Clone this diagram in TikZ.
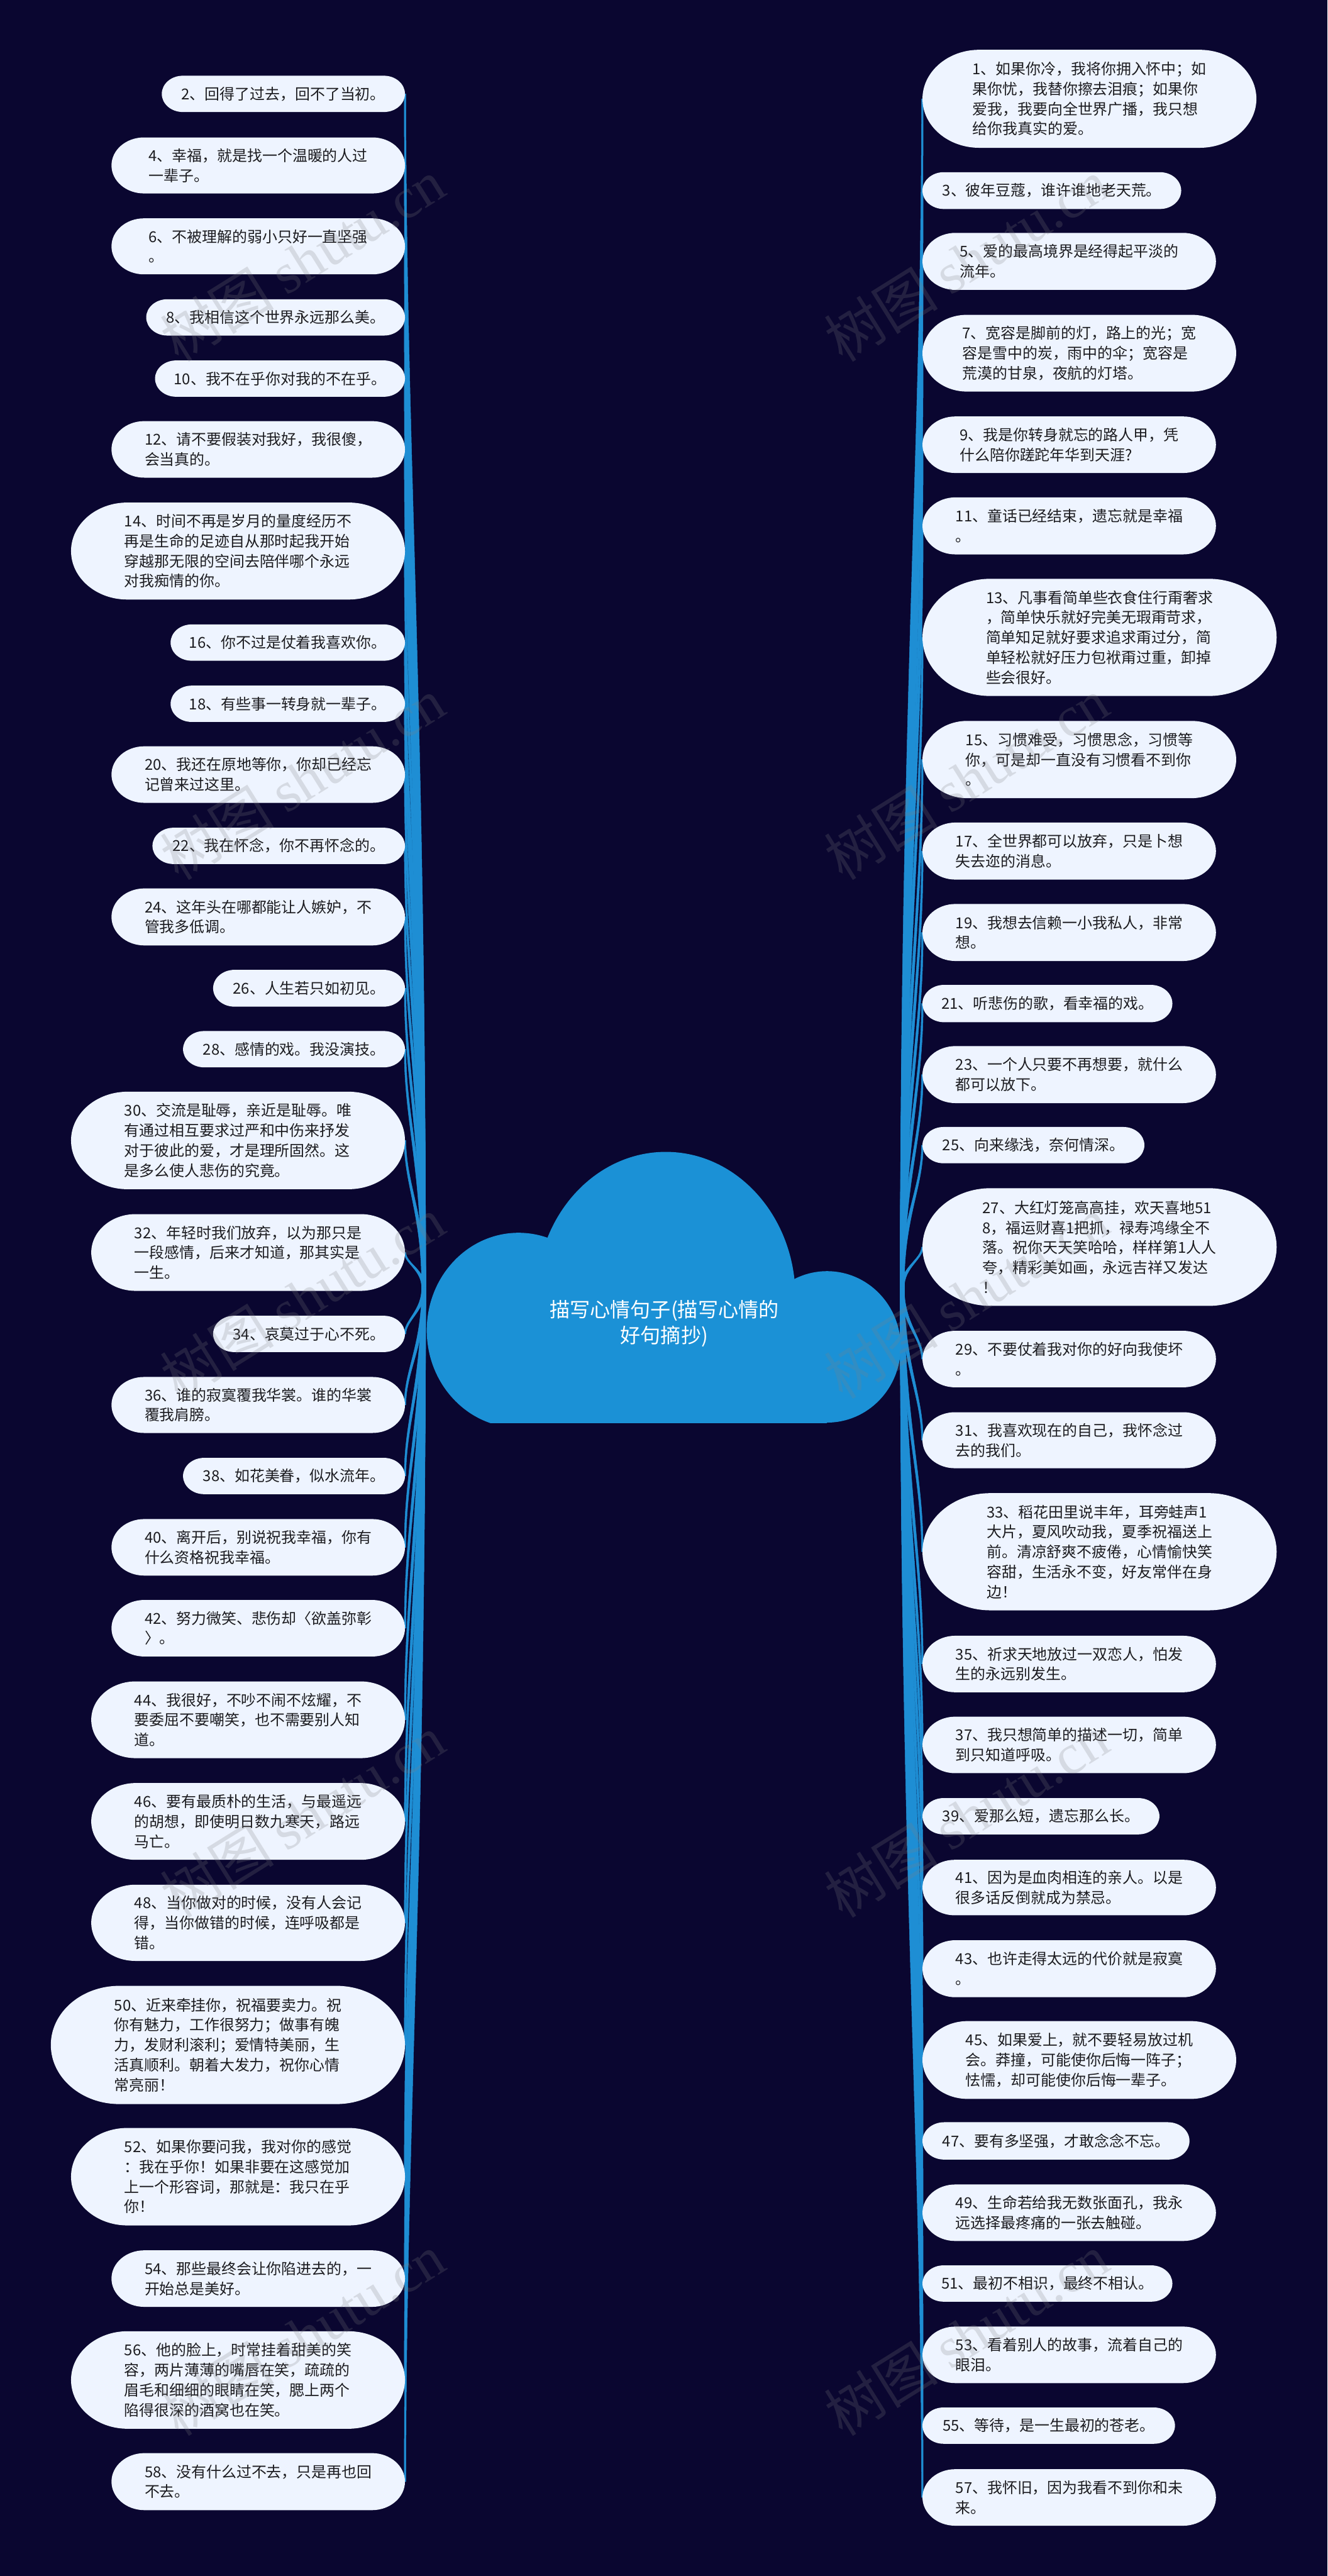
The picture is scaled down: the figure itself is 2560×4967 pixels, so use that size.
\documentclass[tikz,border=0pt]{standalone}
\usepackage{fontspec}
\setmainfont{Noto Sans CJK SC}
\newfontfamily\wmlatin{Liberation Serif}
\usetikzlibrary{calc}
\definecolor{bgc}{RGB}{10,6,48}
\definecolor{boxc}{RGB}{238,244,255}
\definecolor{txtc}{RGB}{28,28,32}
\definecolor{bluec}{RGB}{27,145,214}
\definecolor{linec}{RGB}{30,142,212}
\pgfdeclarelayer{back}
\pgfdeclarelayer{links}
\pgfsetlayers{back,links,main}
\tikzset{
  boxfill/.style={fill=boxc},
  boxtext/.style={align=left, text=txtc, inner sep=0pt, font=\fontsize{29}{38.5}\selectfont},
  conn/.style={fill=linec, draw=linec, line width=0.6pt, line join=round},
  wm/.style={anchor=base west, rotate=32, text=gray, opacity=0.22, inner sep=0pt, font=\fontsize{110}{110}\selectfont},
  titletext/.style={align=center, text=white, inner sep=0pt, font=\fontsize{39}{50}\selectfont}
}
% name, left, top, right, bottom (reference pixels, y downward), text
\newcommand\mmbox[6]{%
  \pgfmathsetmacro\bh{#5-#3}%
  \pgfmathsetmacro\bw{#4-#2}%
  \pgfmathsetmacro\ry{\bh/2}%
  \pgfmathsetmacro\rx{0.58*\bh}%
  \pgfmathsetmacro\kx{0.448*\rx}%
  \pgfmathsetmacro\ky{0.448*\ry}%
  \fill[boxfill] ({#2+\rx},#3) -- ({#4-\rx},#3)
    .. controls ({#4-\kx},#3) and (#4,{#3+\ky}) .. (#4,{#3+\ry})
    .. controls (#4,{#5-\ky}) and ({#4-\kx},#5) .. ({#4-\rx},#5)
    -- ({#2+\rx},#5)
    .. controls ({#2+\kx},#5) and (#2,{#5-\ky}) .. (#2,{#3+\ry})
    .. controls (#2,{#3+\ky}) and ({#2+\kx},#3) .. cycle;
  \node[boxtext, minimum width=\bw pt, minimum height=\bh pt] (#1) at ({(#2+#4)/2},{(#3+#5)/2}) {#6};%
}
% tapered connector from a hub to an anchor of a box
\newcommand\taper[2]{% #1 hub, #2 end anchor
  \coordinate (ca) at ($(#1)!0.5!(#1 |- #2)$);
  \coordinate (cb) at ($(#2)!0.3!(#2 |- #1)$);
  \filldraw[conn] ($(#1)+(-4,0)$) .. controls ($(ca)+(-3.2,0)$) and ($(cb)+(-2,0)$) .. ($(#2)+(-1.6,0)$)
    -- ($(#2)+(1.6,0)$) .. controls ($(cb)+(2,0)$) and ($(ca)+(3.2,0)$) .. ($(#1)+(4,0)$) -- cycle;
}
\newcommand\lconn[1]{\taper{hubL}{#1.east}}
\newcommand\rconn[1]{\taper{hubR}{#1.west}}
\begin{document}
\begin{tikzpicture}[x=1pt,y=-1pt]
\useasboundingbox (0,0) rectangle (2560,4967);
\begin{pgfonlayer}{back}
\fill[bgc] (0,0) rectangle (2560,4967);
\end{pgfonlayer}

% central cloud
\begin{scope}
\clip (700,2150) rectangle (1800,2744);
\fill[bluec] (1284,2501) ellipse[x radius=250, y radius=280];
\fill[bluec] (1000,2565) ellipse[x radius=177, y radius=188];
\fill[bluec] (1595,2597) ellipse[x radius=142, y radius=146];
\fill[bluec] (1000,2560) rectangle (1595,2744);
\end{scope}
\node[titletext] (root) at (1281,2552) {描写心情句子(描写心情的\\好句摘抄)};
\coordinate (hubL) at (817,2483);
\coordinate (hubR) at (1740,2483);

% left column
\mmbox{b2}{312}{146}{781}{216}{2、回得了过去，回不了当初。}
\mmbox{b4}{215}{265}{781}{373}{4、幸福，就是找一个温暖的人过\\一辈子。}
\mmbox{b6}{215}{421}{781}{529}{6、不被理解的弱小只好一直坚强\\。}
\mmbox{b8}{282}{577}{781}{647}{8、我相信这个世界永远那么美。}
\mmbox{b10}{299}{695}{781}{765}{10、我不在乎你对我的不在乎。}
\mmbox{b12}{215}{812}{781}{921}{12、请不要假装对我好，我很傻，\\会当真的。}
\mmbox{b14}{137}{969}{781}{1156}{14、时间不再是岁月的量度经历不\\再是生命的足迹自从那时起我开始\\穿越那无限的空间去陪伴哪个永远\\对我痴情的你。}
\mmbox{b16}{329}{1204}{781}{1274}{16、你不过是仗着我喜欢你。}
\mmbox{b18}{329}{1322}{781}{1392}{18、有些事一转身就一辈子。}
\mmbox{b20}{215}{1439}{781}{1548}{20、我还在原地等你，你却已经忘\\记曾来过这里。}
\mmbox{b22}{294}{1596}{781}{1666}{22、我在怀念，你不再怀念的。}
\mmbox{b24}{215}{1713}{781}{1823}{24、这年头在哪都能让人嫉妒，不\\管我多低调。}
\mmbox{b26}{411}{1870}{781}{1941}{26、人生若只如初见。}
\mmbox{b28}{353}{1988}{781}{2058}{28、感情的戏。我没演技。}
\mmbox{b30}{137}{2105}{781}{2293}{30、交流是耻辱，亲近是耻辱。唯\\有通过相互要求过严和中伤来抒发\\对于彼此的爱，才是理所固然。这\\是多么使人悲伤的究竟。}
\mmbox{b32}{176}{2341}{781}{2489}{32、年轻时我们放弃，以为那只是\\一段感情，后来才知道，那其实是\\一生。}
\mmbox{b34}{411}{2537}{781}{2607}{34、哀莫过于心不死。}
\mmbox{b36}{215}{2655}{781}{2763}{36、谁的寂寞覆我华裳。谁的华裳\\覆我肩膀。}
\mmbox{b38}{353}{2811}{781}{2881}{38、如花美眷，似水流年。}
\mmbox{b40}{215}{2929}{781}{3038}{40、离开后，别说祝我幸福，你有\\什么资格祝我幸福。}
\mmbox{b42}{215}{3085}{781}{3194}{42、努力微笑、悲伤却〈欲盖弥彰\\〉。}
\mmbox{b44}{176}{3242}{781}{3390}{44、我很好，不吵不闹不炫耀，不\\要委屈不要嘲笑，也不需要别人知\\道。}
\mmbox{b46}{176}{3438}{781}{3586}{46、要有最质朴的生活，与最遥远\\的胡想，即使明日数九寒天，路远\\马亡。}
\mmbox{b48}{176}{3634}{781}{3781}{48、当你做对的时候，没有人会记\\得，当你做错的时候，连呼吸都是\\错。}
\mmbox{b50}{98}{3829}{781}{4057}{50、近来牵挂你，祝福要卖力。祝\\你有魅力，工作很努力；做事有魄\\力，发财利滚利；爱情特美丽，生\\活真顺利。朝着大发力，祝你心情\\常亮丽！}
\mmbox{b52}{137}{4103}{781}{4291}{52、如果你要问我，我对你的感觉\\：我在乎你！如果非要在这感觉加\\上一个形容词，那就是：我只在乎\\你！}
\mmbox{b54}{215}{4339}{781}{4448}{54、那些最终会让你陷进去的，一\\开始总是美好。}
\mmbox{b56}{137}{4495}{781}{4683}{56、他的脸上，时常挂着甜美的笑\\容，两片薄薄的嘴唇在笑，疏疏的\\眉毛和细细的眼睛在笑，腮上两个\\陷得很深的酒窝也在笑。}
\mmbox{b58}{215}{4730}{781}{4840}{58、没有什么过不去，只是再也回\\不去。}

% right column
\mmbox{b1}{1779}{96}{2423}{285}{1、如果你冷，我将你拥入怀中；如\\果你忧，我替你擦去泪痕；如果你\\爱我，我要向全世界广播，我只想\\给你我真实的爱。}
\mmbox{b3}{1779}{332}{2278}{403}{3、彼年豆蔻，谁许谁地老天荒。}
\mmbox{b5}{1779}{449}{2345}{559}{5、爱的最高境界是经得起平淡的\\流年。}
\mmbox{b7}{1779}{607}{2384}{755}{7、宽容是脚前的灯，路上的光；宽\\容是雪中的炭，雨中的伞；宽容是\\荒漠的甘泉，夜航的灯塔。}
\mmbox{b9}{1779}{803}{2345}{912}{9、我是你转身就忘的路人甲，凭\\什么陪你蹉跎年华到天涯?}
\mmbox{b11}{1779}{959}{2345}{1069}{11、童话已经结束，遗忘就是幸福\\。}
\mmbox{b13}{1779}{1116}{2462}{1342}{13、凡事看简单些衣食住行甭奢求\\，简单快乐就好完美无瑕甭苛求，\\简单知足就好要求追求甭过分，简\\单轻松就好压力包袱甭过重，卸掉\\些会很好。}
\mmbox{b15}{1779}{1390}{2384}{1539}{15、习惯难受，习惯思念，习惯等\\你，可是却一直没有习惯看不到你\\。}
\mmbox{b17}{1779}{1586}{2345}{1696}{17、全世界都可以放弃，只是卜想\\失去迩的消息。}
\mmbox{b19}{1779}{1743}{2345}{1853}{19、我想去信赖一小我私人，非常\\想。}
\mmbox{b21}{1779}{1899}{2261}{1971}{21、听悲伤的歌，看幸福的戏。}
\mmbox{b23}{1779}{2017}{2345}{2127}{23、一个人只要不再想要，就什么\\都可以放下。}
\mmbox{b25}{1779}{2173}{2207}{2243}{25、向来缘浅，奈何情深。}
\mmbox{b27}{1779}{2291}{2462}{2518}{27、大红灯笼高高挂，欢天喜地51\\8，福运财喜1把抓，禄寿鸿缘全不\\落。祝你天天笑哈哈，样样第1人人\\夸，精彩美如画，永远吉祥又发达\\！}
\mmbox{b29}{1779}{2566}{2345}{2675}{29、不要仗着我对你的好向我使坏\\。}
\mmbox{b31}{1779}{2723}{2345}{2831}{31、我喜欢现在的自己，我怀念过\\去的我们。}
\mmbox{b33}{1779}{2879}{2462}{3105}{33、稻花田里说丰年，耳旁蛙声1\\大片，夏风吹动我，夏季祝福送上\\前。清凉舒爽不疲倦，心情愉快笑\\容甜，生活永不变，好友常伴在身\\边！}
\mmbox{b35}{1779}{3154}{2345}{3263}{35、祈求天地放过一双恋人，怕发\\生的永远别发生。}
\mmbox{b37}{1779}{3310}{2345}{3419}{37、我只想简单的描述一切，简单\\到只知道呼吸。}
\mmbox{b39}{1779}{3467}{2236}{3537}{39、爱那么短，遗忘那么长。}
\mmbox{b41}{1779}{3586}{2345}{3693}{41、因为是血肉相连的亲人。以是\\很多话反倒就成为禁忌。}
\mmbox{b43}{1779}{3741}{2345}{3851}{43、也许走得太远的代价就是寂寞\\。}
\mmbox{b45}{1779}{3897}{2384}{4047}{45、如果爱上，就不要轻易放过机\\会。莽撞，可能使你后悔一阵子；\\怯懦，却可能使你后悔一辈子。}
\mmbox{b47}{1779}{4092}{2294}{4164}{47、要有多坚强，才敢念念不忘。}
\mmbox{b49}{1779}{4212}{2345}{4321}{49、生命若给我无数张面孔，我永\\远选择最疼痛的一张去触碰。}
\mmbox{b51}{1779}{4368}{2261}{4438}{51、最初不相识，最终不相认。}
\mmbox{b53}{1779}{4486}{2345}{4595}{53、看着别人的故事，流着自己的\\眼泪。}
\mmbox{b55}{1779}{4642}{2266}{4712}{55、等待，是一生最初的苍老。}
\mmbox{b57}{1779}{4761}{2345}{4870}{57、我怀旧，因为我看不到你和未\\来。}

% connectors
\begin{pgfonlayer}{links}
\foreach \n in {b2,b4,b6,b8,b10,b12,b14,b16,b18,b20,b22,b24,b26,b28,b30,b32,b34,b36,b38,b40,b42,b44,b46,b48,b50,b52,b54,b56,b58} {\lconn{\n}}
\foreach \n in {b1,b3,b5,b7,b9,b11,b13,b15,b17,b19,b21,b23,b25,b27,b29,b31,b33,b35,b37,b39,b41,b43,b45,b47,b49,b51,b53,b55,b57} {\rconn{\n}}
\end{pgfonlayer}

% watermarks
\node[wm] (wm1) at (345,700) {树图 {\wmlatin shutu.cn}};
\node[wm] (wm2) at (345,1700) {树图 {\wmlatin shutu.cn}};
\node[wm] (wm3) at (345,2700) {树图 {\wmlatin shutu.cn}};
\node[wm] (wm4) at (345,3700) {树图 {\wmlatin shutu.cn}};
\node[wm] (wm5) at (345,4700) {树图 {\wmlatin shutu.cn}};
\node[wm] (wm6) at (1625,700) {树图 {\wmlatin shutu.cn}};
\node[wm] (wm7) at (1625,1700) {树图 {\wmlatin shutu.cn}};
\node[wm] (wm8) at (1625,2700) {树图 {\wmlatin shutu.cn}};
\node[wm] (wm9) at (1625,3700) {树图 {\wmlatin shutu.cn}};
\node[wm] (wm10) at (1625,4700) {树图 {\wmlatin shutu.cn}};
\end{tikzpicture}
\end{document}
